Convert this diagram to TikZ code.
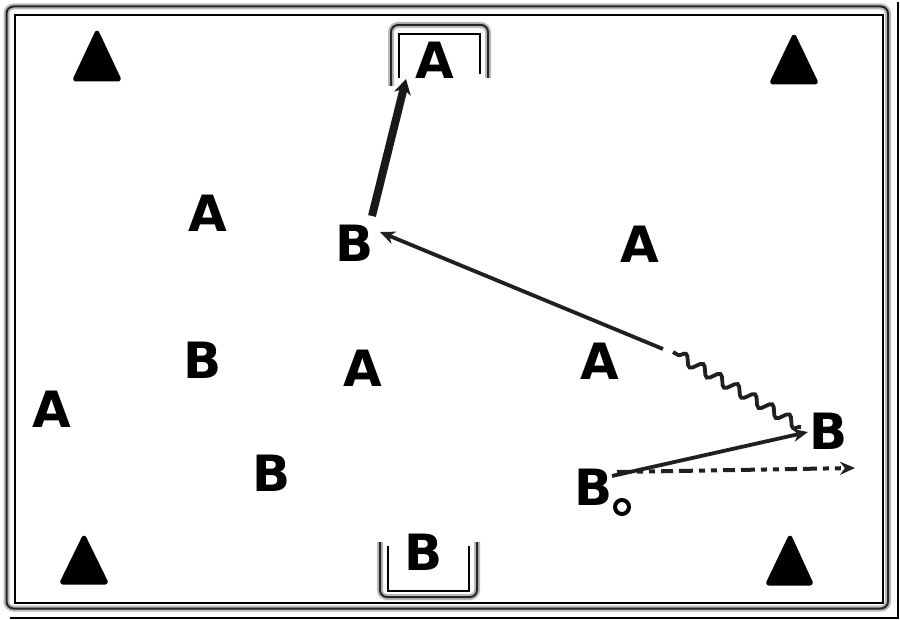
\documentclass[tikz,border=0pt]{standalone}
\usepackage{fontspec}
\setmainfont{DejaVu Sans}
\usetikzlibrary{arrows.meta,decorations.pathmorphing}
\begin{document}
\begin{tikzpicture}[x=1pt,y=-1pt,
  lbl/.style={inner sep=0pt,font=\fontsize{50}{50}\selectfont\bfseries},
  tri/.style={fill=black,draw=black,line width=3pt,line join=round,rounded corners=2pt},
  grayband/.style={draw=gray!55,line width=6pt,rounded corners=7pt},
  graycore/.style={draw=gray!30!black,line width=2pt,rounded corners=7pt},
  thinblack/.style={draw=black,line width=1.8pt},
  move/.style={draw=gray!25!black,line width=3.8pt,-{Stealth[length=15pt,width=13pt]}},
  thick move/.style={draw=gray!20!black,line width=8pt,-{Stealth[length=15pt,width=17pt]}},
  dribble/.style={draw=gray!25!black,line width=3.8pt,decorate,decoration={snake,segment length=20pt,amplitude=5pt}},
  run/.style={draw=gray!25!black,line width=4pt,dash pattern=on 14pt off 6pt on 6pt off 6pt on 6pt off 6pt on 12pt off 6pt,-{Stealth[length=15pt,width=13pt]}}
]
\useasboundingbox (0,0) rectangle (900,620);
\fill[white] (0,0) rectangle (900,620);
% frame
\draw[grayband] (6.5,6.5) rectangle (888,608.5);
\draw[graycore] (6.5,6.5) rectangle (888,608.5);
\draw[thinblack] (15,15) rectangle (883,603);
\draw[black,line width=1.8pt] (898,2) -- (898,618) -- (10,618);
% corner triangles
\draw[tri] (74,80) -- (120,80) -- (97,31) -- cycle;
\draw[tri] (771,83) -- (817,83) -- (794,35) -- cycle;
\draw[tri] (61,583) -- (107,583) -- (84,536) -- cycle;
\draw[tri] (767,584) -- (812,584) -- (790,536) -- cycle;
% goals
\draw[grayband] (391,86) -- (391,25) -- (488,25) -- (488,78);
\draw[graycore] (391,86) -- (391,25) -- (488,25) -- (488,78);
\draw[thinblack] (399,78) -- (399,34) -- (480,34) -- (480,74);
\draw[grayband] (380,542) -- (380,597) -- (477,597) -- (477,542);
\draw[graycore] (380,542) -- (380,597) -- (477,597) -- (477,542);
\draw[thinblack] (388,546) -- (388,591) -- (469,591) -- (469,546);
% players
\node[lbl] (a1) at (435,60) {A};
\node[lbl] (a2) at (208,213) {A};
\node[lbl] (b1) at (355,243) {B};
\node[lbl] (a3) at (640,244) {A};
\node[lbl] (b2) at (203,360) {B};
\node[lbl] (a4) at (363,368) {A};
\node[lbl] (a5) at (600,361) {A};
\node[lbl] (a6) at (52,409) {A};
\node[lbl] (b3) at (272,473) {B};
\node[lbl] (b4) at (829,431) {B};
\node[lbl] (b5) at (594,487) {B};
\node[lbl] (b6) at (424,552) {B};
% ball
\node[circle,draw=black,line width=4pt,minimum size=14pt,inner sep=0pt,fill=white] (ball) at (622,507) {};
% coordinates
\coordinate (s1) at (372,216);
\coordinate (g1) at (406,79);
\coordinate (w1) at (801,427);
\coordinate (w2) at (673,352);
\coordinate (p1) at (663,349);
\coordinate (p2) at (380,232);
\coordinate (q1) at (612,476);
\coordinate (q2) at (808,432);
\coordinate (r1) at (617,472);
\coordinate (r2) at (855,468);
% connectors
\draw[thick move] (s1) -- (g1);
\draw[move] (p1) -- (p2);
\draw[dribble] (w1) -- (w2);
\draw[move] (q1) -- (q2);
\draw[run] (r1) -- (r2);
\end{tikzpicture}
\end{document}
